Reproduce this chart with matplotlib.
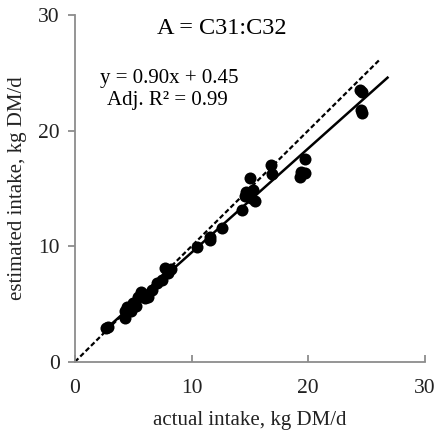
import matplotlib
matplotlib.use("Agg")
import matplotlib.pyplot as plt
import numpy as np

actual = [2.7, 2.8, 4.3, 4.3, 4.5, 4.8, 5.0, 5.2, 5.4, 5.7, 6.0, 6.3, 6.6, 7.0, 7.5, 7.7,
          8.0, 8.2, 10.5, 11.6, 11.6, 12.6, 14.3, 14.6, 14.7, 15.0, 15.1, 15.3, 15.4, 15.0,
          16.8, 16.9, 19.3, 19.4, 19.7, 19.7, 24.4, 24.6, 24.5, 24.6]
estimated = [2.9, 3.0, 4.4, 3.8, 4.7, 4.4, 5.1, 4.8, 5.6, 6.0, 5.5, 5.6, 6.2, 6.8, 7.1, 8.1,
             7.7, 8.0, 9.9, 10.8, 10.5, 11.6, 13.1, 14.3, 14.7, 14.5, 14.2, 14.9, 13.9, 15.9,
             17.0, 16.2, 16.0, 16.4, 16.3, 17.5, 23.5, 23.3, 21.8, 21.5]
slope, intercept = 0.90, 0.45
fit_range = [2.7, 26.8]
identity_range = [0, 26.2]
ticks = [0, 10, 20, 30]

plt.rcParams['font.family'] = ['Liberation Serif', 'DejaVu Serif']

fig = plt.figure(figsize=(4.38, 4.37), dpi=100)
ax = fig.add_axes([0.171, 0.172, 0.799, 0.794])

ax.plot(identity_range, identity_range, linestyle=(0, (2.2, 1.2)), color='black', lw=1.6, zorder=2)
xf = np.array(fit_range)
ax.plot(xf, slope * xf + intercept, color='black', lw=1.8, zorder=2)
ax.scatter(actual, estimated, s=75, color='black', zorder=3, linewidths=0)

ax.set_xlim(0, 30)
ax.set_ylim(0, 30)
ax.set_xticks(ticks)
ax.set_yticks(ticks)
for s in ['top', 'right']:
    ax.spines[s].set_visible(False)
for s in ['left', 'bottom']:
    ax.spines[s].set_color('#8c8c8c')
    ax.spines[s].set_linewidth(1.3)
ax.tick_params(axis='x', direction='in', length=5, color='#8c8c8c', width=1.3,
               labelsize=15.5, labelcolor='#222222', pad=12)
ax.tick_params(axis='y', direction='out', length=5, color='#8c8c8c', width=1.3,
               labelsize=15.5, labelcolor='#222222', pad=6)

ax.set_xlabel('actual intake, kg DM/d', fontsize=15, color='#222222', labelpad=10)
ax.set_ylabel('estimated intake, kg DM/d', fontsize=15, color='#222222', labelpad=8)

ax.text(0.42, 0.962, 'A = C31:C32', transform=ax.transAxes, ha='center', va='center', fontsize=17.5)
ax.text(0.27, 0.818, 'y = 0.90x + 0.45', transform=ax.transAxes,
        ha='center', va='center', fontsize=15)
ax.text(0.265, 0.752, 'Adj. R² = 0.99', transform=ax.transAxes,
        ha='center', va='center', fontsize=15)

fig.savefig('out.png', dpi=100)
